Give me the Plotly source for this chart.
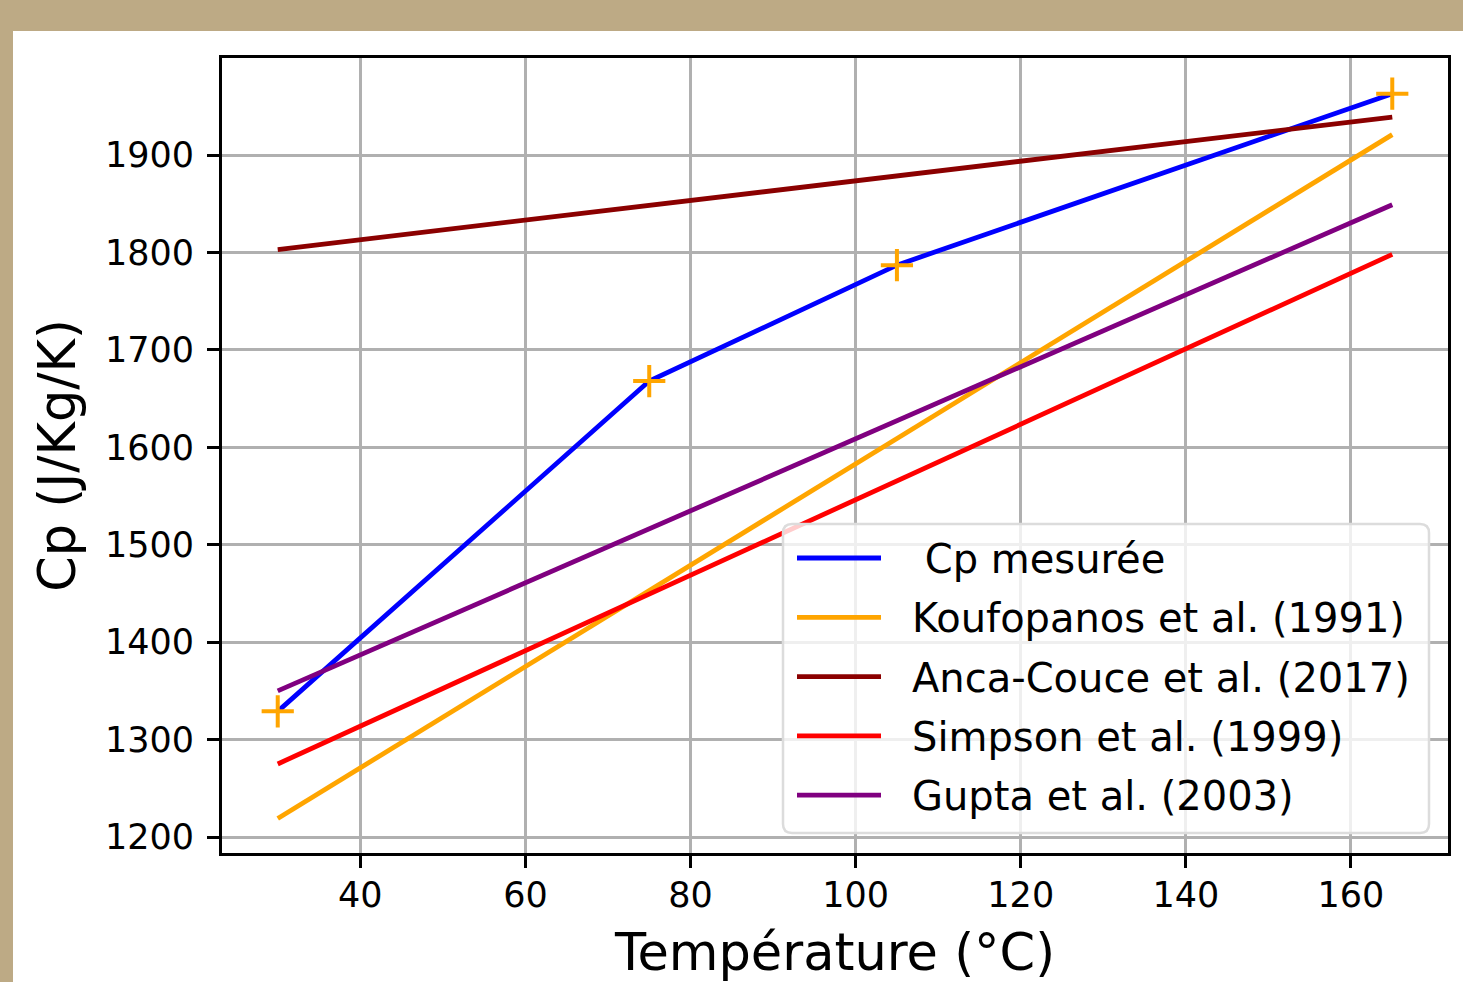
import plotly.graph_objects as go

# Data
temp_measured = [30, 75, 105, 165]
cp_measured = [1329, 1668, 1787, 1963]

temp_model = [30, 165]
cp_koufopanos = [1219, 1921]
cp_anca = [1803, 1939]
cp_simpson = [1275, 1798]
cp_gupta = [1350, 1849]

series_names = [" Cp mesurée", "Koufopanos et al. (1991)", "Anca-Couce et al. (2017)",
                "Simpson et al. (1999)", "Gupta et al. (2003)"]
series_colors = ["blue", "orange", "darkred", "red", "purple"]

x_ticks = [40, 60, 80, 100, 120, 140, 160]
y_ticks = [1200, 1300, 1400, 1500, 1600, 1700, 1800, 1900]

W, H = 1463, 982
L, R, T, B = 222, 15, 58, 129
pw, ph = W - L - R, H - T - B


def px_x(p):
    return (p - L) / pw


def px_y(p):
    return (H - B - p) / ph


LW = 4.8
font = "DejaVu Sans, Arial, sans-serif"

fig = go.Figure()
fig.add_trace(go.Scatter(x=temp_measured, y=cp_measured, mode="lines",
                         line=dict(color=series_colors[0], width=LW), name=series_names[0]))
model_vals = [cp_koufopanos, cp_anca, cp_simpson, cp_gupta]
for name, col, vals in zip(series_names[1:], series_colors[1:], model_vals):
    fig.add_trace(go.Scatter(x=temp_model, y=vals, mode="lines",
                             line=dict(color=col, width=LW), name=name))
fig.add_trace(go.Scatter(x=temp_measured, y=cp_measured, mode="markers",
                         marker=dict(symbol="cross-thin", size=23, color="orange",
                                     line=dict(color="orange", width=4)),
                         showlegend=False))

# custom legend (matplotlib-like, long handles, rounded frame)
lx0, lx1, ly0, ly1, rad = 783, 1429, 524, 833, 9
path = (f"M {px_x(lx0 + rad)},{px_y(ly0)} L {px_x(lx1 - rad)},{px_y(ly0)} "
        f"Q {px_x(lx1)},{px_y(ly0)} {px_x(lx1)},{px_y(ly0 + rad)} "
        f"L {px_x(lx1)},{px_y(ly1 - rad)} Q {px_x(lx1)},{px_y(ly1)} {px_x(lx1 - rad)},{px_y(ly1)} "
        f"L {px_x(lx0 + rad)},{px_y(ly1)} Q {px_x(lx0)},{px_y(ly1)} {px_x(lx0)},{px_y(ly1 - rad)} "
        f"L {px_x(lx0)},{px_y(ly0 + rad)} Q {px_x(lx0)},{px_y(ly0)} {px_x(lx0 + rad)},{px_y(ly0)} Z")
shapes = [
    dict(type="rect", xref="paper", yref="paper",
         x0=px_x(13), x1=px_x(W + 5), y0=px_y(H + 5), y1=px_y(31),
         fillcolor="white", line=dict(width=0), layer="below"),
    dict(type="path", xref="paper", yref="paper", path=path,
         fillcolor="rgba(255,255,255,0.8)", line=dict(color="#dcdcdc", width=2.5), layer="above"),
]
annotations = []
row0, drow = 558, 59.3
for i, (name, col) in enumerate(zip(series_names, series_colors)):
    yc = row0 + i * drow
    shapes.append(dict(type="line", xref="paper", yref="paper",
                       x0=px_x(797), x1=px_x(881), y0=px_y(yc), y1=px_y(yc),
                       line=dict(color=col, width=LW), layer="above"))
    annotations.append(dict(text=name.replace(" ", "\u00a0", 1) if name.startswith(" ") else name,
                            xref="paper", yref="paper", x=px_x(910), y=px_y(yc + 1),
                            xanchor="left", yanchor="middle", showarrow=False,
                            font=dict(size=40, family=font, color="black")))

fig.update_layout(
    width=W, height=H,
    margin=dict(l=L, r=R, t=T, b=B, autoexpand=False),
    paper_bgcolor="#BDAA85",
    plot_bgcolor="white",
    font=dict(family=font, size=35, color="black"),
    showlegend=False,
    shapes=shapes,
    annotations=annotations,
)
fig.update_xaxes(range=[23.25, 171.75], tickvals=x_ticks, ticks="outside", ticklen=12,
                 tickwidth=3, tickcolor="black", showline=True, linecolor="black", linewidth=3,
                 mirror=True, showgrid=True, gridcolor="#b0b0b0", gridwidth=2.5, zeroline=False,
                 title=dict(text="Température (°C)", font=dict(size=51), standoff=21),
                 ticklabelstandoff=-3)
fig.update_yaxes(range=[1183.6, 1999.6], tickvals=y_ticks, ticks="outside", ticklen=12,
                 tickwidth=3, tickcolor="black", showline=True, linecolor="black", linewidth=3,
                 mirror=True, showgrid=True, gridcolor="#b0b0b0", gridwidth=2.5, zeroline=False,
                 title=dict(text="Cp (J/Kg/K)", font=dict(size=51), standoff=14),
                 ticklabelstandoff=6)

fig.write_html("out.html", config={"displayModeBar": False},
               post_script="document.body.style.margin='0';document.body.style.overflow='hidden';")
